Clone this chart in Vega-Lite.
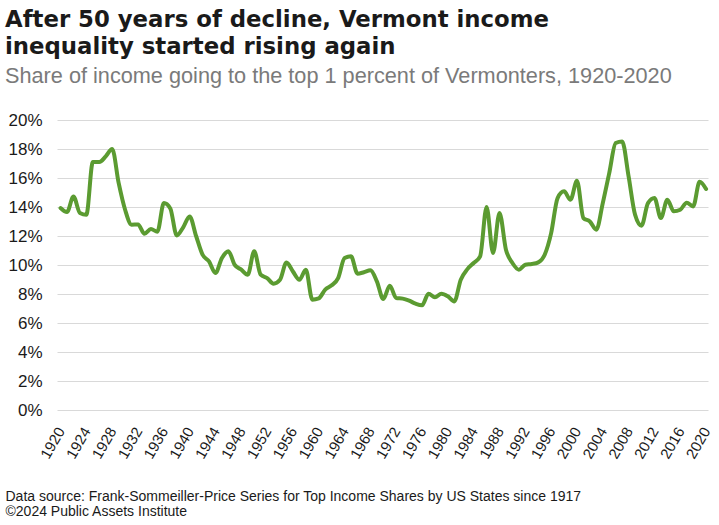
{
  "$schema": "https://vega.github.io/schema/vega-lite/v6.json",
  "width": 651,
  "height": 290,
  "autosize": {"type": "none"},
  "padding": {"left": 57, "top": 120, "right": 11, "bottom": 115},
  "background": "white",
  "title": {
    "text": ["After 50 years of decline, Vermont income", "inequality started rising again"],
    "subtitle": "Share of income going to the top 1 percent of Vermonters, 1920-2020",
    "anchor": "start",
    "frame": "group",
    "dx": -52,
    "offset": 23,
    "font": "DejaVu Sans",
    "fontSize": 22.8,
    "fontWeight": "bold",
    "color": "#1a1a1a",
    "lineHeight": 27,
    "subtitleFont": "Liberation Sans",
    "subtitleFontSize": 21.7,
    "subtitleColor": "#7a7a7a",
    "subtitlePadding": 8
  },
  "data": {
    "values": [
      {"year": 1920, "share": 13.93}, {"year": 1921, "share": 13.65}, {"year": 1922, "share": 14.73}, {"year": 1923, "share": 13.59},
      {"year": 1924, "share": 13.47}, {"year": 1925, "share": 17.1}, {"year": 1926, "share": 17.1}, {"year": 1927, "share": 17.49},
      {"year": 1928, "share": 18.0}, {"year": 1929, "share": 15.66}, {"year": 1930, "share": 13.81}, {"year": 1931, "share": 12.78},
      {"year": 1932, "share": 12.8}, {"year": 1933, "share": 12.16}, {"year": 1934, "share": 12.48}, {"year": 1935, "share": 12.3},
      {"year": 1936, "share": 14.27}, {"year": 1937, "share": 13.9}, {"year": 1938, "share": 12.04}, {"year": 1939, "share": 12.6},
      {"year": 1940, "share": 13.35}, {"year": 1941, "share": 12.0}, {"year": 1942, "share": 10.71}, {"year": 1943, "share": 10.25},
      {"year": 1944, "share": 9.45}, {"year": 1945, "share": 10.48}, {"year": 1946, "share": 10.94}, {"year": 1947, "share": 10.0},
      {"year": 1948, "share": 9.68}, {"year": 1949, "share": 9.33}, {"year": 1950, "share": 10.94}, {"year": 1951, "share": 9.33},
      {"year": 1952, "share": 9.1}, {"year": 1953, "share": 8.71}, {"year": 1954, "share": 8.98}, {"year": 1955, "share": 10.18},
      {"year": 1956, "share": 9.55}, {"year": 1957, "share": 8.98}, {"year": 1958, "share": 9.68}, {"year": 1959, "share": 7.61},
      {"year": 1960, "share": 7.7}, {"year": 1961, "share": 8.3}, {"year": 1962, "share": 8.6}, {"year": 1963, "share": 9.1},
      {"year": 1964, "share": 10.48}, {"year": 1965, "share": 10.6}, {"year": 1966, "share": 9.4}, {"year": 1967, "share": 9.5},
      {"year": 1968, "share": 9.63}, {"year": 1969, "share": 8.87}, {"year": 1970, "share": 7.65}, {"year": 1971, "share": 8.57},
      {"year": 1972, "share": 7.72}, {"year": 1973, "share": 7.68}, {"year": 1974, "share": 7.54}, {"year": 1975, "share": 7.33},
      {"year": 1976, "share": 7.22}, {"year": 1977, "share": 8.02}, {"year": 1978, "share": 7.77}, {"year": 1979, "share": 8.02},
      {"year": 1980, "share": 7.84}, {"year": 1981, "share": 7.49}, {"year": 1982, "share": 8.99}, {"year": 1983, "share": 9.7},
      {"year": 1984, "share": 10.14}, {"year": 1985, "share": 10.6}, {"year": 1986, "share": 14.0}, {"year": 1987, "share": 10.83},
      {"year": 1988, "share": 13.59}, {"year": 1989, "share": 11.06}, {"year": 1990, "share": 10.14}, {"year": 1991, "share": 9.68},
      {"year": 1992, "share": 10.02}, {"year": 1993, "share": 10.07}, {"year": 1994, "share": 10.18}, {"year": 1995, "share": 10.71},
      {"year": 1996, "share": 12.2}, {"year": 1997, "share": 14.62}, {"year": 1998, "share": 15.08}, {"year": 1999, "share": 14.5},
      {"year": 2000, "share": 15.81}, {"year": 2001, "share": 13.24}, {"year": 2002, "share": 13.0}, {"year": 2003, "share": 12.43},
      {"year": 2004, "share": 14.27}, {"year": 2005, "share": 16.34}, {"year": 2006, "share": 18.41}, {"year": 2007, "share": 18.52},
      {"year": 2008, "share": 16.11}, {"year": 2009, "share": 13.47}, {"year": 2010, "share": 12.71}, {"year": 2011, "share": 14.27},
      {"year": 2012, "share": 14.62}, {"year": 2013, "share": 13.24}, {"year": 2014, "share": 14.5}, {"year": 2015, "share": 13.7},
      {"year": 2016, "share": 13.81}, {"year": 2017, "share": 14.3}, {"year": 2018, "share": 14.04}, {"year": 2019, "share": 15.74},
      {"year": 2020, "share": 15.24}
    ]
  },
  "mark": {"type": "line", "color": "#5B9B31", "strokeWidth": 4, "interpolate": "monotone", "strokeCap": "round"},
  "encoding": {
    "x": {
      "field": "year",
      "type": "quantitative",
      "scale": {"domain": [1919.45, 2020.3], "nice": false, "zero": false},
      "axis": {
        "values": [1920, 1924, 1928, 1932, 1936, 1940, 1944, 1948, 1952, 1956, 1960, 1964, 1968, 1972, 1976, 1980, 1984, 1988, 1992, 1996, 2000, 2004, 2008, 2012, 2016, 2020],
        "format": "d",
        "grid": false,
        "domain": false,
        "ticks": false,
        "labelAngle": -60,
        "labelAlign": "right",
        "labelBaseline": "middle",
        "labelPadding": 18,
        "labelFont": "Liberation Sans",
        "labelFontSize": 15,
        "labelColor": "#1a1a1a",
        "labelOverlap": false,
        "title": ["Data source: Frank-Sommeiller-Price Series for Top Income Shares by US States since 1917", "©2024 Public Assets Institute"],
        "titleFont": "Liberation Sans",
        "titleFontSize": 14,
        "titleFontWeight": "normal",
        "titleColor": "#1a1a1a",
        "titleAnchor": "start",
        "titleAlign": "left",
        "titleBaseline": "alphabetic",
        "titleLineHeight": 15,
        "titleX": -52,
        "titleY": 90
      }
    },
    "y": {
      "field": "share",
      "type": "quantitative",
      "scale": {"domain": [0, 20], "nice": false},
      "axis": {
        "values": [0, 2, 4, 6, 8, 10, 12, 14, 16, 18, 20],
        "labelExpr": "datum.value + '%'",
        "grid": true,
        "gridColor": "#d9d9d9",
        "gridWidth": 1,
        "domain": false,
        "ticks": false,
        "labelPadding": 15,
        "labelFont": "Liberation Sans",
        "labelFontSize": 17,
        "labelColor": "#1a1a1a",
        "title": null
      }
    }
  },
  "config": {"view": {"stroke": null}}
}
